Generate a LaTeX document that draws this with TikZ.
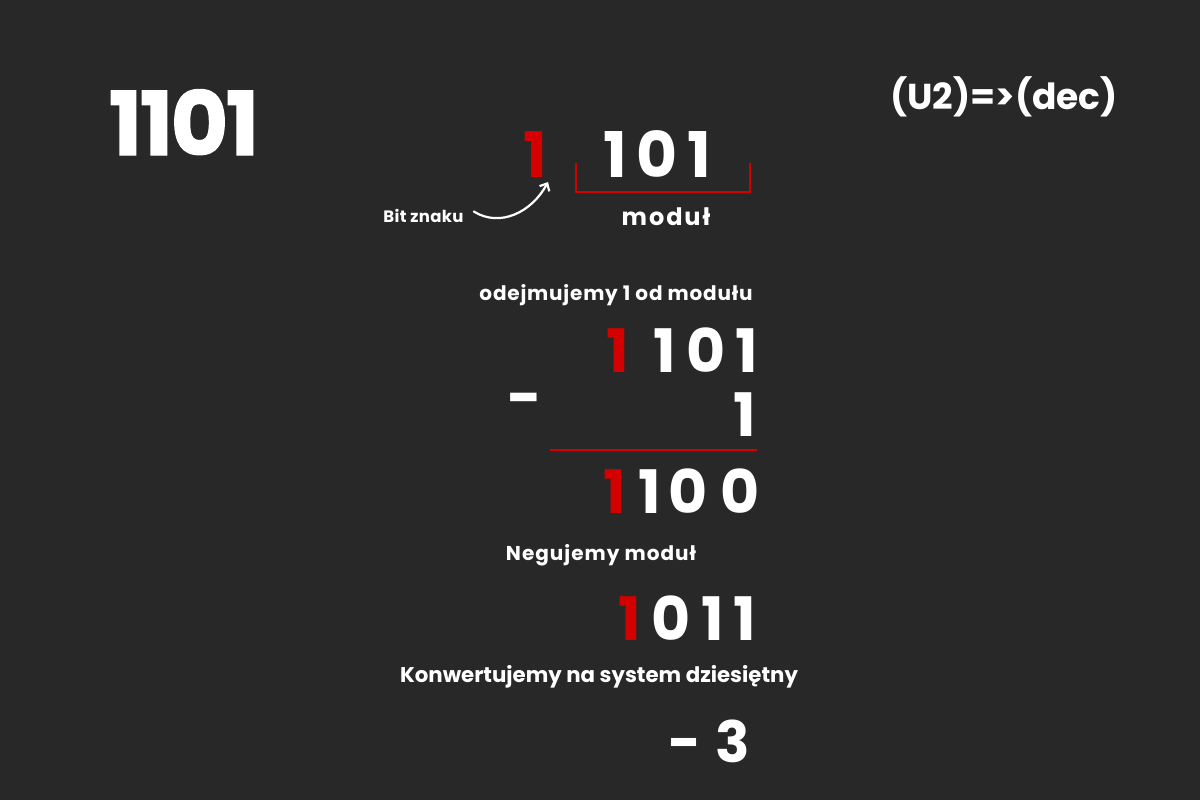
\documentclass[tikz,border=0pt]{standalone}
\usepackage{fontspec}
\setmainfont{Poppins}
\usetikzlibrary{arrows.meta}
\definecolor{bg}{RGB}{40,40,40}
\definecolor{rd}{RGB}{212,0,0}
\tikzset{
  lbl/.style={text=white, inner sep=0pt, anchor=base, font=\bfseries\fontsize{#1}{#1}\selectfont},
  dig/.style={text=white, inner sep=0pt, anchor=base, font=\bfseries\fontsize{#1}{#1}\selectfont},
  sgn/.style={text=rd, inner sep=0pt, anchor=base, font=\bfseries\fontsize{#1}{#1}\selectfont},
  redline/.style={draw=rd, line width=2.5pt},
  hint/.style={draw=white, line width=2.2pt, line cap=round, -{Straight Barb[length=6pt,width=11pt,line width=2.2pt]}}
}
\newcommand{\lsp}[1]{\addfontfeatures{LetterSpace=#1}}
\begin{document}
\begin{tikzpicture}[x=1pt,y=-1pt]
\fill[bg] (0,0) rectangle (1200,800);
\useasboundingbox (0,0) rectangle (1200,800);
% title
\node[lbl=88, font=\bfseries\fontsize{88}{88}\selectfont\addfontfeatures{LetterSpace=-2.5,FakeBold=1.5}] (title) at (184,155) {1101};
\node[lbl=36] (conv) at (1004,110) {(U2)=>(dec)};
% sign bit and modulus
\node[sgn=63] (s0) at (535,177) {1};
\node[dig=63] (m1) at (615,177) {1};
\node[dig=63] (m2) at (657,177) {0};
\node[dig=63] (m3) at (699,177) {1};
\draw[redline] (576,163) -- (576,192) -- (750,192) -- (750,163);
\node[lbl=24] (modul) at (666,225) {\lsp{8}moduł};
\node[lbl=16.5] (bit) at (423.5,222) {\lsp{2}Bit znaku};
\coordinate (tip) at (548,182);
\draw[hint] (bit.east) ++(10,-4) .. controls (500,228) and (532,212) .. (tip);
% subtraction
\node[lbl=20] (step1) at (616,300) {\lsp{4}odejmujemy 1 od modułu};
\node[sgn=60] (a0) at (618,372) {1};
\node[dig=60] (a1) at (664.5,372) {1};
\node[dig=60] (a2) at (706,372) {0};
\node[dig=60] (a3) at (746.5,372) {1};
\node[dig=60] (minus) at (524.5,418) {-};
\node[dig=60] (b3) at (745,436) {1};
\draw[redline] (550,450) -- (757,450);
\node[sgn=60] (c0) at (615,513) {1};
\node[dig=60] (c1) at (649.5,513) {1};
\node[dig=60] (c2) at (688,513) {0};
\node[dig=60] (c3) at (740,513) {0};
% negation
\node[lbl=20] (step2) at (601,560) {\lsp{5}Negujemy moduł};
\node[sgn=60] (d0) at (630,640) {1};
\node[dig=60] (d1) at (671,640) {0};
\node[dig=60] (d2) at (712.5,640) {1};
\node[dig=60] (d3) at (745,640) {1};
% conversion
\node[lbl=21.3] (step3) at (599,682) {Konwertujemy na system dziesiętny};
\node[dig=57] (rm) at (685.5,762) {-};
\node[dig=57] (r3) at (732.5,762) {3};
\end{tikzpicture}
\end{document}
